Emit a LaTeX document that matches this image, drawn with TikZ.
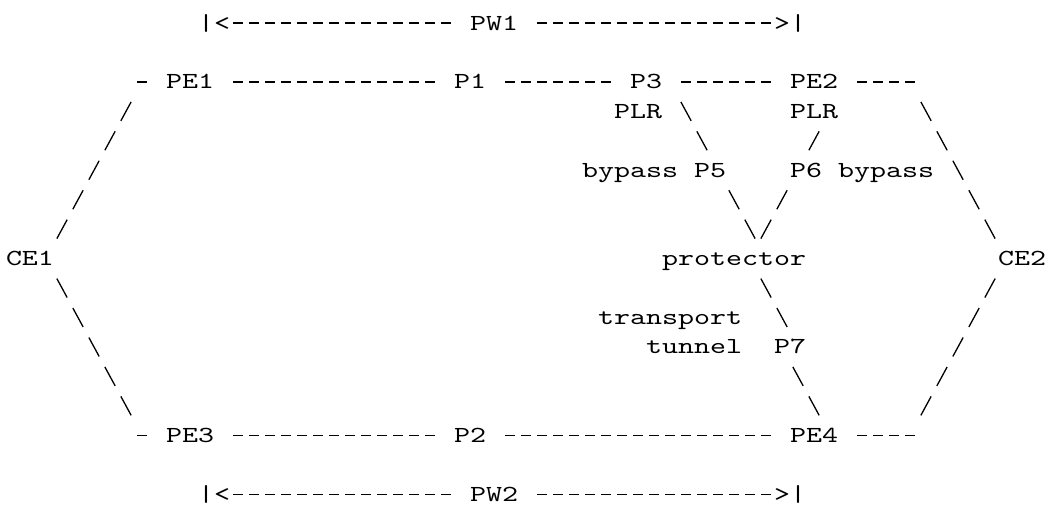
\documentclass[tikz,border=0pt]{standalone}
\usepackage{fontspec}
\newfontfamily\asciifont{lmmono10-regular.otf}[FakeStretch=1.325]
\usetikzlibrary{calc}
\tikzset{
  lbl/.style={inner xsep=9.5pt, inner ysep=1pt, text height=7pt,
    text depth=0pt, font=\asciifont\fontsize{11.5}{13}\selectfont},
  endbar/.style={lbl, inner xsep=1.5pt},
  link/.style={line width=0.65pt},
  hdash/.style={link, dash pattern=on 5pt off 3pt},
  slash/.style={line width=0.65pt, dash pattern=on 10.8pt off 5.96pt},
}
\begin{document}
\begin{tikzpicture}[x=8pt, y=-14.725pt]
\useasboundingbox (-0.875,-0.781) rectangle (64.6875,16.435);
    %pseudowires
    \node[endbar] (pw1l) at (12.5,0) {|<};
    \node[lbl] (PW1) at (30,0) {PW1};
    \node[endbar] (pw1r) at (48.5,0) {>|};
    \node[endbar] (pw2l) at (12.5,16) {|<};
    \node[lbl] (PW2) at (30,16) {PW2};
    \node[endbar] (pw2r) at (48.5,16) {>|};
    %routers
    \node[lbl] (CE1) at (1,8) {CE1};
    \node[lbl] (CE2) at (63,8) {CE2};
    \node[lbl] (PE1) at (11,2) {PE1};
    \node[lbl] (P1) at (28.5,2) {P1};
    \node[lbl] (P3) at (39.5,2) {P3};
    \node[lbl] (PE2) at (50,2) {PE2};
    \node[lbl] (PE3) at (11,14) {PE3};
    \node[lbl] (P2) at (28.5,14) {P2};
    \node[lbl] (PE4) at (50,14) {PE4};
    \node[lbl] (P5) at (43.5,5) {P5};
    \node[lbl] (P6) at (49.5,5) {P6};
    \node[lbl] (P7) at (48.5,11) {P7};
    \node[lbl] (prot) at (45,8) {protector};
    %labels
    \node[lbl] (plr1) at (39,3) {PLR};
    \node[lbl] (plr2) at (50,3) {PLR};
    \node[lbl] (byp1) at (38.5,5) {bypass};
    \node[lbl] (byp2) at (54.5,5) {bypass};
    \node[lbl] (transp) at (41,10) {transport};
    \node[lbl] (tunnel) at (42.5,11) {tunnel};
    %corners
    \coordinate (cnw) at (7.6875,2);
    \coordinate (cne) at (56.3125,2);
    \coordinate (csw) at (7.6875,14);
    \coordinate (cse) at (56.3125,14);
    %slash ends
    \coordinate (nw1) at (3,7);   \coordinate (nw2) at (7,3);
    \coordinate (sw1) at (3,9);   \coordinate (sw2) at (7,13);
    \coordinate (ne1) at (57,3);  \coordinate (ne2) at (61,7);
    \coordinate (se1) at (61,9);  \coordinate (se2) at (57,13);
    \coordinate (a1) at (42,3);   \coordinate (a2) at (43,4);
    \coordinate (b1) at (45,6);   \coordinate (b2) at (46,7);
    \coordinate (c1) at (50,4);
    \coordinate (d1) at (48,6);   \coordinate (d2) at (47,7);
    \coordinate (e1) at (47,9);   \coordinate (e2) at (48,10);
    \coordinate (f1) at (49,12);  \coordinate (f2) at (50,13);
    %horizontal links
    \draw[hdash] (pw1l) -- (PW1);
    \draw[hdash] (PW1) -- (pw1r);
    \draw[hdash] (pw2l) -- (PW2);
    \draw[hdash] (PW2) -- (pw2r);
    \draw[link] (cnw) -- (PE1);
    \draw[hdash] (PE1) -- (P1);
    \draw[hdash] (P1) -- (P3);
    \draw[hdash] (P3) -- (PE2);
    \draw[hdash] (PE2) -- (cne);
    \draw[link] (csw) -- (PE3);
    \draw[hdash] (PE3) -- (P2);
    \draw[hdash] (P2) -- (PE4);
    \draw[hdash] (PE4) -- (cse);
    %diagonal links
    \draw[slash] ($(nw1)!-5.4pt!(nw2)$) -- ($(nw2)!-5.4pt!(nw1)$);
    \draw[slash] ($(sw1)!-5.4pt!(sw2)$) -- ($(sw2)!-5.4pt!(sw1)$);
    \draw[slash] ($(ne1)!-5.4pt!(ne2)$) -- ($(ne2)!-5.4pt!(ne1)$);
    \draw[slash] ($(se1)!-5.4pt!(se2)$) -- ($(se2)!-5.4pt!(se1)$);
    \draw[slash] ($(a1)!-5.4pt!(a2)$) -- ($(a2)!-5.4pt!(a1)$);
    \draw[slash] ($(b1)!-5.4pt!(b2)$) -- ($(b2)!-5.4pt!(b1)$);
    \draw[link] ($(c1)+(-0.322,0.322)$) -- ($(c1)+(0.322,-0.322)$);
    \draw[slash] ($(d1)!-5.4pt!(d2)$) -- ($(d2)!-5.4pt!(d1)$);
    \draw[slash] ($(e1)!-5.4pt!(e2)$) -- ($(e2)!-5.4pt!(e1)$);
    \draw[slash] ($(f1)!-5.4pt!(f2)$) -- ($(f2)!-5.4pt!(f1)$);
\end{tikzpicture}
\end{document}
